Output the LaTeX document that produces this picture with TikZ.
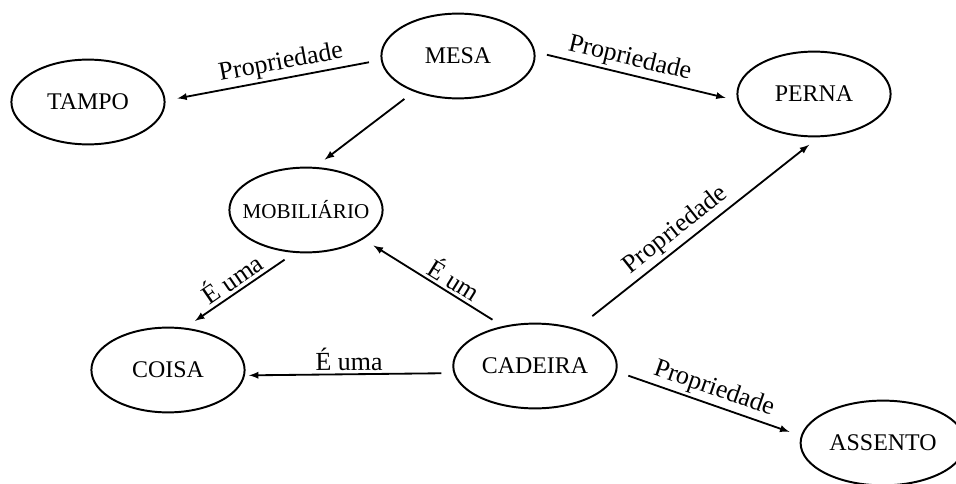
\documentclass[tikz,border=0pt]{standalone}
\usepackage{fontspec}
\setmainfont{Liberation Serif}
\usepackage{tikz}
\usetikzlibrary{shapes.geometric, arrows}
\usetikzlibrary{positioning}
\tikzstyle{conceito} 		= [ellipse, minimum width=3.83cm, minimum height=2.12cm, text centered, draw=black, line width=1.4pt, font=\fontsize{17}{20}\selectfont]
\tikzstyle{rotulo} 		= [midway, sloped, above, inner sep=2pt, font=\fontsize{18.5}{22}\selectfont]
\tikzstyle{arrow} = [line width=1.3pt,-latex, shorten >=0.3cm, shorten <=0.3cm]

\begin{document}
\begin{tikzpicture}[node distance=2cm]
				\useasboundingbox (0,0) rectangle (23.9,-12.1);
				\node (mesa) [conceito] at (11.45,-1.4) {MESA};
				\node (tampo) [conceito, left of=mesa, xshift=-7.25cm, yshift=-1.15cm] {TAMPO};
				\node (perna) [conceito, right of=mesa, xshift=6.9cm, yshift=-0.95cm] {PERNA};
				\node (mobiliario) [conceito, below of=mesa, xshift=-3.8cm, yshift=-1.85cm, inner xsep=-0.3cm, font=\fontsize{15}{18}\selectfont] {MOBILIÁRIO};
				\node (coisa) [conceito, below of=mobiliario, xshift=-3.45cm, yshift=-2cm] {COISA};
				\node (cadeira) [conceito, right of=coisa, xshift=7.175cm, yshift=0.1cm] {CADEIRA};
				\node (assento) [conceito, right of=cadeira, xshift=6.7cm, yshift=-1.925cm] {ASSENTO};
				
				\draw [arrow] (mesa.183) -- (tampo.1) node [rotulo, pos=0.45] {Propriedade};
				\draw [arrow] (mesa.3) -- (perna.185) node [rotulo, pos=0.45] {Propriedade};
				\draw [arrow] (mesa.219) -- (mobiliario.78);
				\draw [arrow] (mobiliario.255) -- (coisa.68) node [rotulo] {É uma};
				\draw [arrow] (cadeira.129) -- (mobiliario.333) node [rotulo, pos=0.4] {É um};
				\draw [arrow, shorten >=0.1cm] (cadeira.185) -- (coisa.356) node [rotulo] {É uma};
				\draw [arrow, shorten <=0.5cm] (cadeira.42) -- (perna.276) node [rotulo, pos=0.45] {Propriedade};
				\draw [arrow] (cadeira.356) -- (assento.175) node [rotulo] {Propriedade};
\end{tikzpicture}
\end{document}
